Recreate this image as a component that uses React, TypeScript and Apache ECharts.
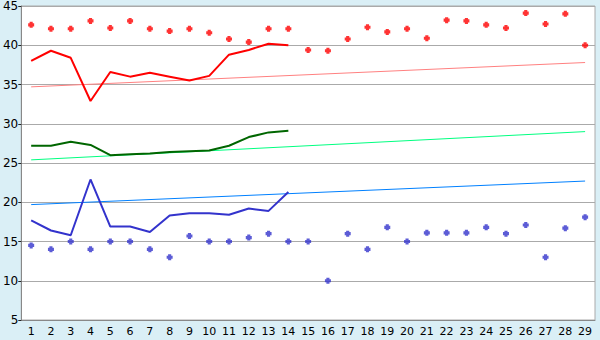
import React, { useEffect, useRef } from "react";
import * as echarts from "echarts";

const categories = Array.from({ length: 29 }, (_, i) => String(i + 1));

const redMarkers = [42.6, 42.1, 42.1, 43.1, 42.2, 43.1, 42.1, 41.8, 42.1, 41.6, 40.8, 40.4, 42.1, 42.1, 39.4, 39.3, 40.8, 42.3, 41.7, 42.1, 40.9, 43.2, 43.1, 42.6, 42.2, 44.1, 42.7, 44.0, 40.0];
const redLine = [38.0, 39.3, 38.4, 32.9, 36.6, 36.0, 36.5, 36.0, 35.5, 36.1, 38.8, 39.4, 40.2, 40.0];
const greenLine = [27.2, 27.2, 27.7, 27.3, 26.0, 26.1, 26.2, 26.4, 26.5, 26.6, 27.2, 28.3, 28.9, 29.1];
const blueLine = [17.7, 16.4, 15.8, 22.9, 16.9, 16.9, 16.2, 18.3, 18.6, 18.6, 18.4, 19.2, 18.9, 21.3];
const blueMarkers = [14.5, 14.0, 15.0, 14.0, 15.0, 15.0, 14.0, 13.0, 15.7, 15.0, 15.0, 15.5, 16.0, 15.0, 15.0, 10.0, 16.0, 14.0, 16.8, 15.0, 16.1, 16.1, 16.1, 16.8, 16.0, 17.1, 13.0, 16.7, 18.1];
const redTrend = [34.7, 37.8];
const greenTrend = [25.4, 29.0];
const blueTrend = [19.7, 22.7];

const yTicks = { min: 5, max: 45, interval: 5 };

const markerPath = "path://M1.2,0H3.8V1.2H5V3.8H3.8V5H1.2V3.8H0V1.2H1.2Z";

function trend(v: number[]) {
  return [[0, v[0]], [categories.length - 1, v[1]]];
}

export default function App() {
  const ref = useRef<HTMLDivElement>(null);
  useEffect(() => {
    if (!ref.current) return;
    const chart = echarts.init(ref.current, null, { renderer: "svg" });
    const font = "DejaVu Sans";
    chart.setOption({
      animation: false,
      backgroundColor: "#daeff6",
      grid: {
        show: true,
        left: 21,
        top: 5,
        right: 5,
        bottom: 20,
        backgroundColor: "#ffffff",
        borderColor: "#aaaaaa",
        borderWidth: 1,
      },
      xAxis: {
        type: "category",
        data: categories,
        boundaryGap: true,
        axisLine: { lineStyle: { color: "#888888", width: 1 } },
        axisTick: { alignWithLabel: true, length: 5, lineStyle: { color: "#222222" } },
        axisLabel: { color: "#000000", fontFamily: font, fontSize: 11, margin: 6, interval: 0 },
        splitLine: { show: false },
      },
      yAxis: {
        type: "value",
        min: yTicks.min,
        max: yTicks.max,
        interval: yTicks.interval,
        axisLine: { show: true, lineStyle: { color: "#888888", width: 1 } },
        axisTick: { show: true, length: 3, lineStyle: { color: "#222222" } },
        axisLabel: { color: "#000000", fontFamily: font, fontSize: 12, margin: 3 },
        splitLine: { lineStyle: { color: "#aaaaaa", width: 1 } },
      },
      series: [
        { type: "line", data: trend(redTrend), symbol: "none", lineStyle: { color: "#ff8080", width: 1 }, z: 1 },
        { type: "line", data: trend(greenTrend), symbol: "none", lineStyle: { color: "#00ff80", width: 1 }, z: 1 },
        { type: "line", data: trend(blueTrend), symbol: "none", lineStyle: { color: "#0080ff", width: 1 }, z: 1 },
        { type: "line", data: redLine, symbol: "none", lineStyle: { color: "#ff0000", width: 2 }, z: 2 },
        { type: "line", data: greenLine, symbol: "none", lineStyle: { color: "#006600", width: 2 }, z: 2 },
        { type: "line", data: blueLine, symbol: "none", lineStyle: { color: "#3333cc", width: 2 }, z: 2 },
        { type: "scatter", data: redMarkers, symbol: markerPath, symbolSize: 6, itemStyle: { color: "#ff0000" }, z: 3 },
        { type: "scatter", data: blueMarkers, symbol: markerPath, symbolSize: 6, itemStyle: { color: "#3333cc" }, z: 3 },
      ],
    });
    return () => chart.dispose();
  }, []);
  return <div ref={ref} style={{ position: "fixed", left: 0, top: 0, width: 600, height: 340 }} />;
}
